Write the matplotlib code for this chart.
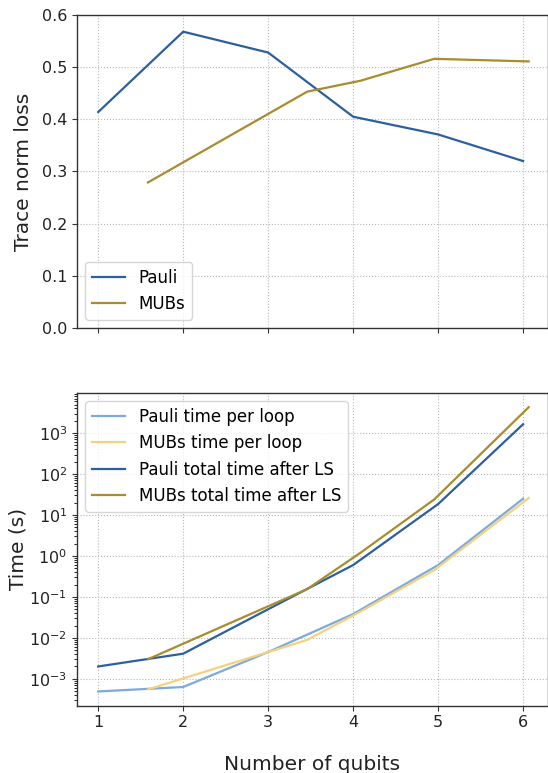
import numpy as np
import matplotlib
matplotlib.use("Agg")
import matplotlib.pyplot as plt

# ---- data ----
pauli_qubits = [1, 2, 3, 4, 5, 6]
mubs_qubits = [1.585, 3.459, 4.087, 4.954, 6.066]  # log2 of dimensions 3, 11, 17, 31, 67

pauli_loss = [0.414, 0.568, 0.528, 0.405, 0.371, 0.320]
mubs_loss = [0.279, 0.453, 0.474, 0.516, 0.511]

pauli_time_loop = [0.00049, 0.00063, 0.0045, 0.038, 0.60, 25]
mubs_time_loop = [0.00055, 0.0089, 0.044, 0.45, 26]
pauli_time_total = [0.0020, 0.0041, 0.050, 0.60, 18.5, 1650]
mubs_time_total = [0.0030, 0.155, 1.2, 24, 4300]

x_ticks = [1, 2, 3, 4, 5, 6]
loss_ticks = [0.0, 0.1, 0.2, 0.3, 0.4, 0.5, 0.6]

# ---- style ----
c_pauli = "#2c5f9e"
c_mubs = "#a88c2e"
c_pauli_light = "#7eaadb"
c_mubs_light = "#f3d27f"

plt.rcParams["font.family"] = ["DejaVu Sans"]
fig = plt.figure(figsize=(5.48, 7.73), dpi=100)
ax1 = fig.add_axes([0.1405, 0.5757, 0.859, 0.4049])
ax2 = fig.add_axes([0.1405, 0.0871, 0.859, 0.4045], sharex=ax1)

for ax in (ax1, ax2):
    ax.grid(True, which="major", linestyle=":", color="#b8b8b8", linewidth=0.8)
    ax.set_axisbelow(True)
    for s in ax.spines.values():
        s.set_color("#333333")
        s.set_linewidth(1.0)
    ax.tick_params(labelsize=11.5, colors="#333333", labelcolor="#222222")

lw = 1.6
ax1.plot(pauli_qubits, pauli_loss, color=c_pauli, lw=lw, label="Pauli")
ax1.plot(mubs_qubits, mubs_loss, color=c_mubs, lw=lw, label="MUBs")
ax1.set_ylim(0, 0.6)
ax1.set_yticks(loss_ticks)
ax1.set_ylabel("Trace norm loss", fontsize=14.5, color="#222222", labelpad=6.5)
ax1.legend(loc="lower left", fontsize=12, framealpha=0.8, edgecolor="#cccccc",
           handlelength=2.0, borderaxespad=0.5)
plt.setp(ax1.get_xticklabels(), visible=False)

ax2.plot(pauli_qubits, pauli_time_loop, color=c_pauli_light, lw=lw, label="Pauli time per loop")
ax2.plot(mubs_qubits, mubs_time_loop, color=c_mubs_light, lw=lw, label="MUBs time per loop")
ax2.plot(pauli_qubits, pauli_time_total, color=c_pauli, lw=lw, label="Pauli total time after LS")
ax2.plot(mubs_qubits, mubs_time_total, color=c_mubs, lw=lw, label="MUBs total time after LS")
ax2.set_yscale("log")
ax2.set_ylabel("Time (s)", fontsize=14.5, color="#222222", labelpad=1)
ax2.legend(loc="upper left", fontsize=12, framealpha=0.8, edgecolor="#cccccc",
           handlelength=2.0, borderaxespad=0.5)
ax2.set_xticks(x_ticks)
ax2.set_xlim(0.75, 6.29)
ax2.set_xlabel("Number of qubits", fontsize=14.5, color="#222222", labelpad=18)

fig.savefig("out.png", dpi=100)
